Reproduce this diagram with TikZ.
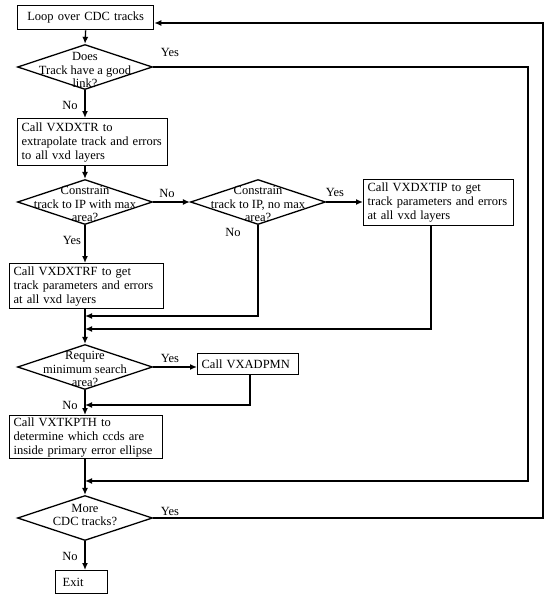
\documentclass[tikz,border=0pt]{standalone}
\usepackage{fontspec}
\setmainfont{Liberation Serif}
\usetikzlibrary{shapes.geometric,arrows.meta}
\begin{document}
\begin{tikzpicture}[x=1pt,y=-1pt,
  font=\fontsize{12.5}{14}\selectfont,
  box/.style={draw,line width=1.3pt,rectangle,anchor=north west,align=left,inner xsep=4pt,inner ysep=0pt},
  dia/.style={draw,line width=1.3pt,diamond,minimum width=135pt,minimum height=45pt,inner sep=0pt},
  dtext/.style={align=center,font=\fontsize{12.5}{13.5}\selectfont,inner sep=0pt},
  lbl/.style={inner sep=0pt},
  conn/.style={line width=1.3pt},
  arr/.style={-{Latex[length=7pt,width=6pt]}}]
\useasboundingbox (0,0) rectangle (559,605);

% boxes
\node[box,align=center,minimum width=136pt,minimum height=24pt,text width=128pt] (loop) at (17,5) {Loop over CDC tracks};
\node[box,minimum width=150pt,minimum height=47pt,text width=142pt] (b1) at (17,118) {Call VXDXTR to\\extrapolate track and errors\\to all vxd layers};
\node[box,minimum width=154pt,minimum height=45pt,text width=146pt] (b2) at (9,263) {Call VXDXTRF to get\\track parameters and errors\\at all vxd layers};
\node[box,minimum width=150pt,minimum height=46pt,text width=142pt] (b3) at (363,179) {Call VXDXTIP to get\\track parameters and errors\\at all vxd layers};
\node[box,minimum width=101pt,minimum height=21pt,text width=93pt] (b4) at (197,353) {Call VXADPMN};
\node[box,minimum width=153pt,minimum height=43pt,text width=145pt] (b5) at (9,415) {Call VXTKPTH to\\determine which ccds are\\inside primary error ellipse};
\node[box,inner xsep=7pt,minimum width=52pt,minimum height=23pt,text width=38pt] (ex) at (55,570) {Exit};

% diamonds
\node[dia] (d1) at (85,67) {};
\node[dia] (d2) at (85,202) {};
\node[dia] (d3) at (258,202) {};
\node[dia] (d4) at (85,367) {};
\node[dia] (d5) at (85,518) {};
\node[dtext] (t1) at (85,70) {Does\\Track have a good\\link?};
\node[dtext] (t2) at (85,204) {Constrain\\track to IP with max\\area?};
\node[dtext] (t3) at (258,204) {Constrain\\track to IP, no max\\area?};
\node[dtext] (t4) at (85,369) {Require\\minimum search\\area?};
\node[dtext] (t5) at (85,515) {More\\CDC tracks?};

% labels
\node[lbl] (y1) at (170,52) {Yes};
\node[lbl] (n1) at (70,105) {No};
\node[lbl] (n2) at (167,193) {No};
\node[lbl] (y2) at (72,240) {Yes};
\node[lbl] (y3) at (335,192) {Yes};
\node[lbl] (n3) at (233,232) {No};
\node[lbl] (y4) at (170,358) {Yes};
\node[lbl] (n4) at (70,405) {No};
\node[lbl] (y5) at (170,511) {Yes};
\node[lbl] (n5) at (70,556) {No};

% join coordinates
\coordinate (j1) at (85,316);
\coordinate (j2) at (85,329);
\coordinate (j3) at (85,405);
\coordinate (j4) at (85,481);
\coordinate (i1) at (528,481);
\coordinate (o1) at (543,23);
\coordinate (b3s) at (431,225);
\coordinate (b4s) at (250,374);

% main vertical flow
\draw[conn,arr] (loop.south) -- (d1.north);
\draw[conn,arr] (d1.south) -- (d1.south |- b1.north);
\draw[conn,arr] (d1.south |- b1.south) -- (d2.north);
\draw[conn,arr] (d2.south) -- (d2.south |- b2.north);
\draw[conn,arr] (d2.south |- b2.south) -- (d4.north);
\draw[conn,arr] (d4.south) -- (d4.south |- b5.north);
\draw[conn,arr] (d4.south |- b5.south) -- (d5.north);
\draw[conn,arr] (d5.south) -- (d5.south |- ex.north);

% horizontal branches
\draw[conn,arr] (d2.east) -- (d3.west);
\draw[conn,arr] (d3.east) -- (d3.east -| b3.west);
\draw[conn,arr] (d4.east) -- (d4.east -| b4.west);

% return lines
\draw[conn,arr] (d3.south) |- (j1);
\draw[conn,arr] (b3s) |- (j2);
\draw[conn,arr] (b4s) |- (j3);
\draw[conn,arr] (d1.east) -| (i1) -- (j4);
\draw[conn,arr] (d5.east) -| (o1) -- (loop.east |- o1);
\end{tikzpicture}
\end{document}
